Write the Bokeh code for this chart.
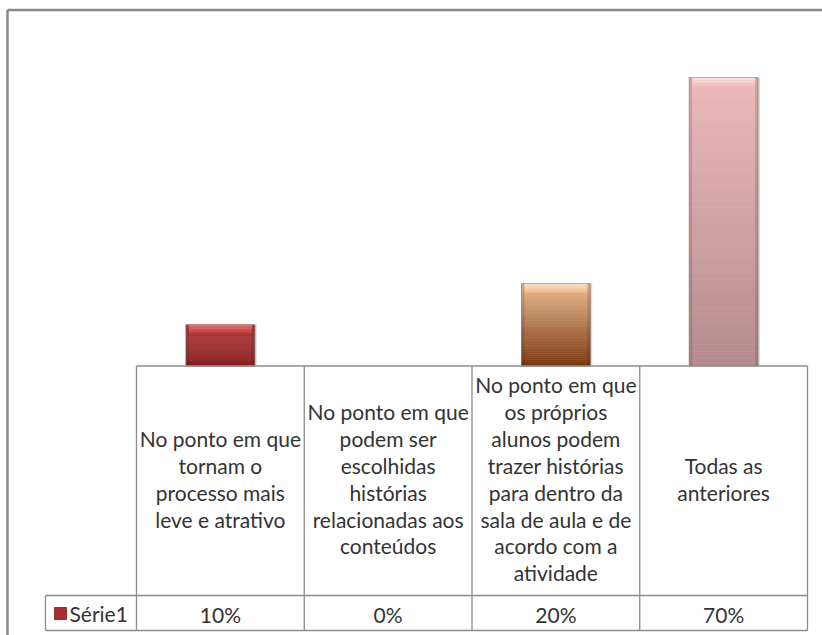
from bokeh.plotting import figure
from bokeh.models import Range1d
from bokeh.core.properties import value
from bokeh.embed import file_html
from bokeh.resources import INLINE

# ---------------- data ----------------
categories = [
    "No ponto em que\ntornam o\nprocesso mais\nleve e atrativo",
    "No ponto em que\npodem ser\nescolhidas\nhistórias\nrelacionadas aos\nconteúdos",
    "No ponto em que\nos próprios\nalunos podem\ntrazer histórias\npara dentro da\nsala de aula e de\nacordo com a\natividade",
    "Todas as\nanteriores",
]
values = [10, 0, 20, 70]
value_labels = ["10%", "0%", "20%", "70%"]
series_name = "Série1"

# per-bar gradient colours (bottom, top, highlight)
bar_bottom = ["#8A2020", "#8A2020", "#7A3812", "#B58B8F"]
bar_top = ["#B63C3C", "#B63C3C", "#ECBB8F", "#EDB9BA"]
bar_light = ["#F47C7C", "#F47C7C", "#FCE6CE", "#FDE8E8"]

# ---------------- layout ----------------
W, H = 822, 635
OFF = 0
COL_W = 167.75          # px per category
COL0 = 136              # page x of first column
BASE = 365.5            # page y of baseline
PXPCT = 4.12            # px per percent

xs = -(COL0 - OFF) / COL_W - 0.5
xe = xs + W / COL_W
ys = -(H + OFF - BASE) / PXPCT
ye = (BASE - OFF) / PXPCT

p = figure(width=W, height=H, output_backend="svg", toolbar_location=None,
           x_range=Range1d(xs, xe), y_range=Range1d(ys, ye),
           min_border=0, min_border_left=0, min_border_right=0,
           min_border_top=0, min_border_bottom=0)
p.axis.visible = False
p.grid.visible = False
p.outline_line_color = None
p.background_fill_color = "white"
p.border_fill_color = "white"
p.extra_x_ranges = {"px": Range1d(OFF, OFF + W)}
p.extra_y_ranges = {"px": Range1d(OFF + H, OFF)}


def hx(c):
    c = c.lstrip("#")
    return tuple(int(c[i:i + 2], 16) for i in (0, 2, 4))


def mix(a, b, t):
    a, b = hx(a), hx(b)
    return "#%02x%02x%02x" % tuple(int(round(a[k] + (b[k] - a[k]) * t)) for k in range(3))


BW = 0.41
N = 40
for i, v in enumerate(values):
    if v <= 0:
        continue
    # shadow
    p.vbar(x=[i + 0.012], width=BW, bottom=[0], top=[v], fill_color="#999999",
           fill_alpha=0.35, line_color=None)
    # vertical gradient
    bots = [v * k / N for k in range(N)]
    tops = [v * (k + 1) / N for k in range(N)]
    cols = [mix(bar_bottom[i], bar_top[i], (k + 0.5) / N) for k in range(N)]
    p.vbar(x=[i] * N, width=BW, bottom=bots, top=tops, fill_color=cols,
           line_color=cols, line_width=0.5)
    # top bevel highlight
    bev = 9 / PXPCT
    M = 6
    b_b = [v - bev * (k + 1) / M for k in range(M)]
    b_t = [v - bev * k / M for k in range(M)]
    b_c = [mix(bar_light[i], bar_top[i], (k + 0.5) / M) for k in range(M)]
    p.vbar(x=[i] * M, width=BW - 0.03, bottom=b_b, top=b_t, fill_color=b_c,
           line_color=None)
    # side shading
    sw = 3 / COL_W
    for sx in (i - BW / 2 + sw / 2, i + BW / 2 - sw / 2):
        p.vbar(x=[sx], width=sw, bottom=[0], top=[v], fill_color="#000000",
               fill_alpha=0.12, line_color=None)
    p.vbar(x=[i], width=BW, bottom=[0], top=[v], fill_color=None,
           line_color="#8a7a7a", line_alpha=0.55, line_width=1)

# ---------------- data table ----------------
ncat = len(categories)
edges = [COL0 + k * COL_W for k in range(ncat + 1)]
row_top, row_mid, row_bot = BASE, 595, 630
leg_left = 45
gc = "#8c8c8c"
# verticals
p.segment(x0=edges, y0=[row_top] * len(edges), x1=edges, y1=[row_bot] * len(edges),
          line_color=gc, line_width=1.3, x_range_name="px", y_range_name="px")
p.segment(x0=[leg_left], y0=[row_mid], x1=[leg_left], y1=[row_bot],
          line_color=gc, line_width=1.3, x_range_name="px", y_range_name="px")
# horizontals
p.segment(x0=[edges[0], leg_left, leg_left], y0=[row_top, row_mid, row_bot],
          x1=[edges[-1]] * 3, y1=[row_top, row_mid, row_bot],
          line_color=gc, line_width=1.3, x_range_name="px", y_range_name="px")

# outer chart border (top + left)
p.segment(x0=[7, 7], y0=[9.5, 9.5], x1=[OFF + W, 7], y1=[9.5, OFF + H],
          line_color="#888888", line_width=2.5, x_range_name="px", y_range_name="px")

font = value("Lato")
tc = "#333333"
FS = "21px"
centers = [(edges[k] + edges[k + 1]) / 2 for k in range(ncat)]
p.text(x=centers, y=[(row_top + row_mid) / 2 - 2] * ncat, text=categories,
       text_align="center", text_baseline="middle", text_font=font,
       text_font_size=FS, text_line_height=1.075, text_color=tc,
       x_range_name="px", y_range_name="px")
p.text(x=centers, y=[(row_mid + row_bot) / 2 + 1] * ncat, text=value_labels,
       text_align="center", text_baseline="middle", text_font=font,
       text_font_size=FS, text_color=tc,
       x_range_name="px", y_range_name="px")

# legend key
p.rect(x=[60], y=[613], width=12, height=12, fill_color="#A83030",
       line_color="#7a1a1a", line_width=0.8, x_range_name="px", y_range_name="px")
p.text(x=[69], y=[613], text=[series_name], text_align="left",
       text_baseline="middle", text_font=font, text_font_size=FS,
       text_color=tc, x_range_name="px", y_range_name="px")

open("out.html", "w").write(file_html(p, INLINE))
